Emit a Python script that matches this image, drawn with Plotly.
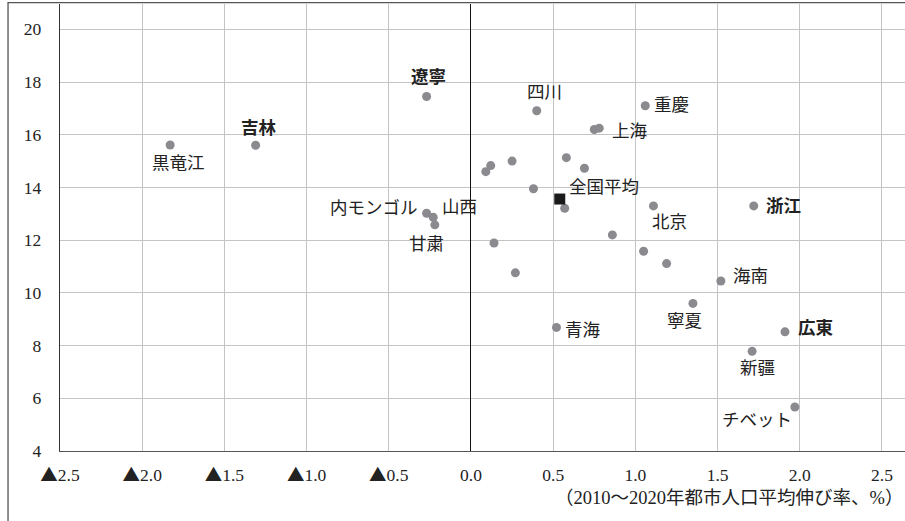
import plotly.graph_objects as go

# Labeled provinces: name, x (2010-2020 avg urban population growth, %), y
label_names = ["黒竜江", "吉林", "遼寧", "四川", "重慶", "上海", "内モンゴル", "山西", "甘粛",
               "北京", "浙江", "海南", "寧夏", "青海", "広東", "新疆", "チベット"]
label_x = [-1.83, -1.31, -0.27, 0.40, 1.06, 0.78, -0.27, -0.23, -0.22,
           1.11, 1.72, 1.52, 1.35, 0.52, 1.91, 1.71, 1.97]
label_y = [15.61, 15.60, 17.45, 16.91, 17.10, 16.25, 13.02, 12.87, 12.58,
           13.30, 13.30, 10.45, 9.60, 8.69, 8.52, 7.78, 5.67]

# Unlabeled provinces
other_x = [0.75, 0.09, 0.12, 0.25, 0.58, 0.69, 0.38, 0.57, 0.14, 0.27, 0.86, 1.05, 1.19]
other_y = [16.20, 14.60, 14.83, 15.00, 15.13, 14.73, 13.95, 13.21, 11.89, 10.76, 12.20, 11.58, 11.11]

# National average
avg_name = "全国平均"
avg_x = [0.54]
avg_y = [13.56]

x_tickvals = [-2.5, -2.0, -1.5, -1.0, -0.5, 0.0, 0.5, 1.0, 1.5, 2.0, 2.5]
x_ticktext = ["▲2.5", "▲2.0", "▲1.5", "▲1.0", "▲0.5", "0.0", "0.5", "1.0", "1.5", "2.0", "2.5"]
y_tickvals = [4, 6, 8, 10, 12, 14, 16, 18, 20]
x_title = "（2010～2020年都市人口平均伸び率、%）"

# label styling: (xanchor, xshift, yshift, bold)
label_style = {
    "黒竜江": ("center", 8, -18, False),
    "吉林": ("center", 3, 17, True),
    "遼寧": ("center", 2, 20, True),
    "四川": ("center", 8, 19, False),
    "重慶": ("left", 7, 1, False),
    "上海": ("left", 11, -3, False),
    "内モンゴル": ("right", -7, 5, False),
    "山西": ("left", 7, 10, False),
    "甘粛": ("center", -8, -19, False),
    "北京": ("center", 16, -16, False),
    "浙江": ("left", 10, 0, True),
    "海南": ("left", 10, 5, False),
    "寧夏": ("center", -8, -18, False),
    "青海": ("left", 7, -3, False),
    "広東": ("left", 11, 4, True),
    "新疆": ("center", 5, -17, False),
    "チベット": ("right", -1, -13, False),
}

FONT = "'Liberation Serif', 'Times New Roman', 'Noto Sans CJK JP', serif"
DOT = "rgb(138,138,143)"


def tri(t):
    # render the ▲ glyph with the full-width CJK face, like the reference
    if t.startswith("▲"):
        return "<span style=\"font-family:'Noto Sans CJK JP'\">▲</span>" + t[1:]
    return t


fig = go.Figure()
fig.add_trace(go.Scatter(x=other_x, y=other_y, mode="markers",
                         marker=dict(color=DOT, size=9), showlegend=False, hoverinfo="skip"))
fig.add_trace(go.Scatter(x=label_x, y=label_y, mode="markers",
                         marker=dict(color=DOT, size=9), showlegend=False,
                         text=label_names, hoverinfo="text"))
fig.add_trace(go.Scatter(x=avg_x, y=avg_y, mode="markers",
                         marker=dict(color="#1a1a1a", size=11, symbol="square"),
                         showlegend=False, text=[avg_name], hoverinfo="text"))

for n, xv, yv in zip(label_names, label_x, label_y):
    xa, xs, ys, bold = label_style[n]
    fig.add_annotation(x=xv, y=yv, text=(f"<b>{n}</b>" if bold else n), showarrow=False,
                       xanchor=xa, yanchor="middle", xshift=xs, yshift=ys,
                       font=dict(family=FONT, size=17.5, color="#222"))

fig.add_annotation(x=avg_x[0], y=avg_y[0], text=avg_name, showarrow=False,
                   xanchor="left", yanchor="middle", xshift=7, yshift=12,
                   font=dict(family=FONT, size=17.5, color="#222"))

fig.add_annotation(x=1, y=-0.105, xref="paper", yref="paper", text=x_title, showarrow=False,
                   xanchor="right", yanchor="middle", xshift=0,
                   font=dict(family=FONT, size=18.5, color="#222"))

# outer frame
fig.add_shape(type="rect", xref="paper", yref="paper", x0=-0.0615, x1=1.2, y0=-0.4, y1=1.003,
              line=dict(color="#555", width=1.3), fillcolor="rgba(0,0,0,0)", layer="above")

fig.update_xaxes(range=[-2.5, 2.64], tickvals=x_tickvals, ticktext=[tri(t) for t in x_ticktext],
                 showgrid=True, gridcolor="#c4c4c4", gridwidth=1.3,
                 zeroline=True, zerolinecolor="#111", zerolinewidth=1,
                 showline=True, linecolor="#555", linewidth=1.3,
                 ticks="", ticklabelstandoff=8,
                 tickfont=dict(family=FONT, size=17.5, color="#222"))
fig.update_yaxes(range=[4, 20.96], tickvals=y_tickvals,
                 showgrid=True, gridcolor="#c4c4c4", gridwidth=1.3,
                 zeroline=False, showline=True, linecolor="#333", linewidth=1.3,
                 ticks="", ticklabelstandoff=14,
                 tickfont=dict(family=FONT, size=17.5, color="#222"))

fig.update_layout(width=905, height=521, margin=dict(l=60, r=0, t=4, b=70),
                  plot_bgcolor="white", paper_bgcolor="white")

fig.write_html("out.html", config={"displayModeBar": False},
               post_script="document.body.style.margin='0';document.body.style.overflow='hidden';")
